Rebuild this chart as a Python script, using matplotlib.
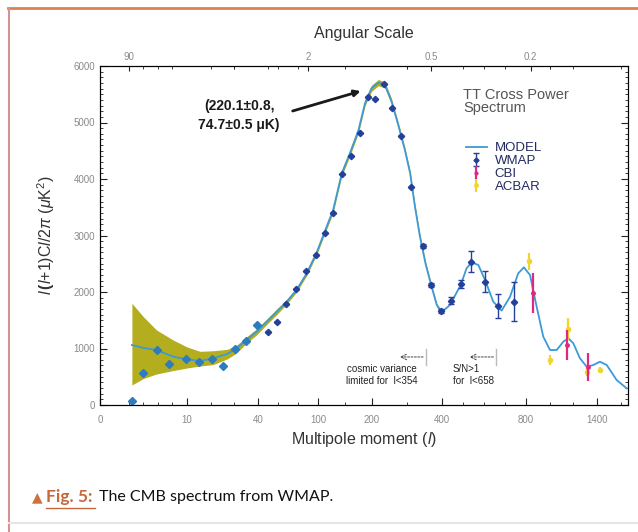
import numpy as np
import matplotlib
matplotlib.use("Agg")
import matplotlib.pyplot as plt
from matplotlib.lines import Line2D

plt.rcParams['font.family'] = ['Liberation Sans', 'DejaVu Sans']
plt.rcParams['mathtext.fontset'] = 'custom'
plt.rcParams['mathtext.rm'] = 'Liberation Sans'
plt.rcParams['mathtext.it'] = 'Liberation Sans:italic'
plt.rcParams['mathtext.bf'] = 'Liberation Sans:bold'

# Best-fit model curve
model_l = [2.4, 4, 5.8, 8.1, 10, 15.5, 21, 27, 31, 35, 39.4, 48.7, 58.7, 68.7, 78.7,
           88.7, 98.7, 116, 128, 144, 159, 175, 187, 199, 218, 237, 256, 275, 294,
           309, 323, 337, 353, 369, 385, 399, 438, 489, 517, 541, 573, 605, 644, 684,
           724, 763, 790, 834, 890, 946, 1003, 1059, 1115, 1158, 1200, 1256, 1313,
           1369, 1425, 1482, 1566, 1651]
model_v = [1062, 1010, 973, 855, 808, 779, 826, 903, 1003, 1150, 1297, 1474, 1651, 1828,
           2040, 2330, 2700, 3156, 3451, 4100, 4454, 4867, 5340, 5605, 5705, 5664, 5368,
           4956, 4513, 4100, 3500, 2980, 2500, 2124, 1770, 1641, 1770, 2124, 2419, 2525,
           2478, 2212, 1829, 1670, 1917, 2330, 2437, 2300, 1740, 1209, 973, 973, 1120,
           1180, 1092, 826, 678, 708, 766, 708, 442, 295]

# Cosmic variance band
band_l = [2.4, 4, 5.8, 8.1, 10, 15.5, 21, 27, 31, 35, 39.4, 48.7, 58.7, 68.7, 78.7,
          88.7, 98.7, 116, 128, 144, 159, 175, 187, 199, 218, 237, 256, 275, 294, 309,
          323, 337, 353, 369, 385, 399]
band_hi = [1800, 1560, 1327, 1150, 1027, 950, 960, 985, 1060, 1200, 1350, 1520, 1700,
           1870, 2080, 2370, 2740, 3200, 3500, 4150, 4505, 4915, 5390, 5660, 5760, 5720,
           5420, 5005, 4560, 4145, 3545, 3020, 2540, 2160, 1800, 1670]
band_lo = [354, 470, 549, 610, 655, 690, 715, 815, 920, 1090, 1240, 1425, 1600, 1785,
           2000, 2290, 2660, 3110, 3400, 4050, 4405, 4815, 5290, 5550, 5650, 5610, 5320,
           4905, 4465, 4055, 3455, 2940, 2460, 2090, 1740, 1610]

# WMAP measurements
wmap_l = [2.4, 4.0, 5.8, 7.5, 9.8, 15, 20.4, 25.3, 30.3, 34.8, 39.5, 50, 59, 68, 78, 88,
          98, 113, 128, 144, 161, 177, 192, 210, 233, 257, 282, 312, 345, 369, 396, 441,
          489, 538, 605, 665, 744]
wmap_v = [76, 561, 973, 720, 808, 755, 820, 690, 985, 1138, 1416, 1298, 1463, 1790, 2060,
          2380, 2660, 3050, 3390, 4088, 4407, 4820, 5446, 5410, 5681, 5251, 4766, 3850,
          2814, 2124, 1664, 1846, 2142, 2537, 2183, 1752, 1829]
wmap_err = [0, 0, 0, 0, 0, 0, 0, 0, 0, 0, 0, 0, 0, 0, 0, 0, 0, 0, 0, 0, 0, 0, 0, 0, 0,
            0, 0, 0, 40, 40, 40, 60, 70, 180, 180, 210, 350]

# CBI and ACBAR measurements
cbi_l = [857, 1150, 1328]
cbi_v = [1977, 1062, 678]
cbi_err = [354, 265, 250]
acbar_l = [825, 1003, 1158, 1313, 1425]
acbar_v = [2540, 796, 1345, 590, 620]
acbar_err = [150, 90, 190, 80, 60]

x_ticks = [0, 10, 40, 100, 200, 400, 800, 1400]
x_minor = [2, 4, 6, 8, 20, 30, 60, 80, 150, 300, 500, 600, 700, 1000, 1200, 1600]
top_ticks = [2, 90, 370, 840]
top_labels = ['90', '2', '0.5', '0.2']

# The original uses a stretched multipole axis; reproduce it piecewise
L_NODES = [0, 2, 10, 40, 100, 200, 400, 800, 1400, 1700]
P_NODES = [100, 129, 187, 258, 318, 372, 442, 526, 597, 632.5]


def fwd(l):
    return np.interp(l, L_NODES, P_NODES)


def inv(p):
    return np.interp(p, P_NODES, L_NODES)


fig = plt.figure(figsize=(6.38, 5.32), dpi=100)
ax = fig.add_axes([100 / 638, 1 - 405 / 532, 528 / 638, 339 / 532])
ax.set_xscale('function', functions=(fwd, inv))
ax.set_xlim(0, 1662)
ax.set_ylim(0, 6000)

ax.fill_between(band_l, band_lo, band_hi, color='#b4ad1e', lw=0, zorder=1)
ax.plot(model_l, model_v, color='#3d9ad6', lw=1.3, zorder=2)

wm = ax.errorbar(wmap_l, wmap_v, yerr=wmap_err, fmt='D', ms=3.2, color='#24409a',
                 ecolor='#24409a', elinewidth=1, capsize=2.5, zorder=4)
ax.plot(wmap_l[:11], wmap_v[:11], 'D', ms=3.6, color='#2c7cc0', zorder=5)
cb = ax.errorbar(cbi_l, cbi_v, yerr=cbi_err, fmt='o', ms=2.5, color='#e0287e',
                 elinewidth=1.6, capsize=0, zorder=4)
ac = ax.errorbar(acbar_l, acbar_v, yerr=acbar_err, fmt='o', ms=3, color='#f3d42a',
                 elinewidth=1.6, capsize=0, zorder=3)

# axes and ticks
ax.set_xticks(x_ticks)
ax.set_xticklabels([str(t) for t in x_ticks])
ax.set_xticks(x_minor, minor=True)
ax.set_yticks(range(0, 6001, 1000))
ax.set_yticks(range(0, 6001, 100), minor=True)
ax.tick_params(which='both', direction='in', right=True, colors='#222',
               labelcolor='#8a8a8a', labelsize=7)
ax.tick_params(which='major', length=5)
ax.tick_params(axis='x', pad=7)
ax.tick_params(which='minor', length=2.5)
ax.set_xlabel(r'Multipole moment ($\mathit{l}$)', fontsize=11.5, color='#333', labelpad=4)
ax.set_ylabel(r'$\mathbf{\mathit{l}\,(\mathit{l}}$+1)C$\mathit{l}$/2$\pi$ ($\mu$K$^2$)',
              fontsize=11.5, color='#333', labelpad=12)

ax2 = ax.twiny()
ax2.set_xscale('function', functions=(fwd, inv))
ax2.set_xlim(ax.get_xlim())
ax2.set_xticks(top_ticks)
ax2.set_xticklabels(top_labels)
ax2.set_xticks(x_minor + [30, 50, 300, 1000], minor=True)
ax2.tick_params(which='both', direction='in', colors='#222', labelcolor='#8a8a8a',
                labelsize=7, pad=3)
ax2.tick_params(which='minor', length=2)
ax2.set_xlabel('Angular Scale', fontsize=11.5, color='#333', labelpad=10)

# legend and labels inside the plot
ax.text(0.6875, 0.935, 'TT Cross Power\nSpectrum', transform=ax.transAxes, fontsize=10.5,
        color='#555', va='top', linespacing=0.95)
model_h = Line2D([], [], color='#3d9ad6', lw=1.3)
ax.legend([model_h, wm, cb, ac], ['MODEL', 'WMAP', 'CBI', 'ACBAR'], loc='upper left',
          bbox_to_anchor=(0.68, 0.795), frameon=False, fontsize=9.5, labelcolor='#222a60',
          handlelength=1.6, handletextpad=0.6, labelspacing=0.05, borderpad=0,
          markerscale=0.8)

ax.text(32, 5120, '(220.1\u00b10.8,\n74.7\u00b10.5 \u03bcK)', fontsize=10, weight='bold',
        ha='center', va='center', color='#1a1a1a', linespacing=1.5)
ax.annotate('', xy=(184, 5570), xytext=(72, 5190),
            arrowprops=dict(arrowstyle='-|>', color='#1a1a1a', lw=2, mutation_scale=9))

# cosmic variance / S/N notes
ax.text(229, 530, 'cosmic variance\nlimited for  l<354', fontsize=7, ha='center',
        va='center', color='#222', linespacing=1.3)
ax.annotate('', xy=(272, 850), xytext=(354, 850),
            arrowprops=dict(arrowstyle='->', color='#444', lw=0.7, ls=(0, (2, 1.5))))
ax.plot([354, 354], [700, 1000], color='#bbb', lw=1)
ax.text(452, 530, 'S/N>1\nfor  l<658', fontsize=7, ha='left', va='center',
        color='#222', linespacing=1.3)
ax.annotate('', xy=(518, 850), xytext=(658, 850),
            arrowprops=dict(arrowstyle='->', color='#444', lw=0.7, ls=(0, (2, 1.5))))
ax.plot([658, 658], [700, 1000], color='#bbb', lw=1)

# page frame
fig.add_artist(Line2D([8 / 638, 1], [1 - 8 / 532, 1 - 8 / 532], color='#d9824e', lw=2,
                      transform=fig.transFigure))
fig.add_artist(Line2D([9 / 638, 9 / 638], [0, 1 - 8 / 532], color='#d99090', lw=1.5,
                      transform=fig.transFigure))
fig.add_artist(Line2D([9 / 638, 1], [1 - 523 / 532, 1 - 523 / 532], color='#e6e6e6',
                      lw=1.5, transform=fig.transFigure))

# caption
cy = 1 - 497 / 532
fig.text(32 / 638, cy, '\u25b2', fontsize=10, color='#d0703f', va='center',
         family=['DejaVu Sans'])
fig.text(46 / 638, cy, 'Fig. 5:', fontsize=12.5, color='#c8683a', weight='bold',
         va='center', family=['Lato', 'DejaVu Sans'])
fig.add_artist(Line2D([46 / 638, 95 / 638], [1 - 508 / 532, 1 - 508 / 532],
                      color='#c8683a', lw=1, transform=fig.transFigure))
fig.text(99 / 638, cy, 'The CMB spectrum from WMAP.', fontsize=11.5, color='#111',
         va='center', family=['Lato', 'DejaVu Sans'])

fig.savefig('out.png', dpi=100)
